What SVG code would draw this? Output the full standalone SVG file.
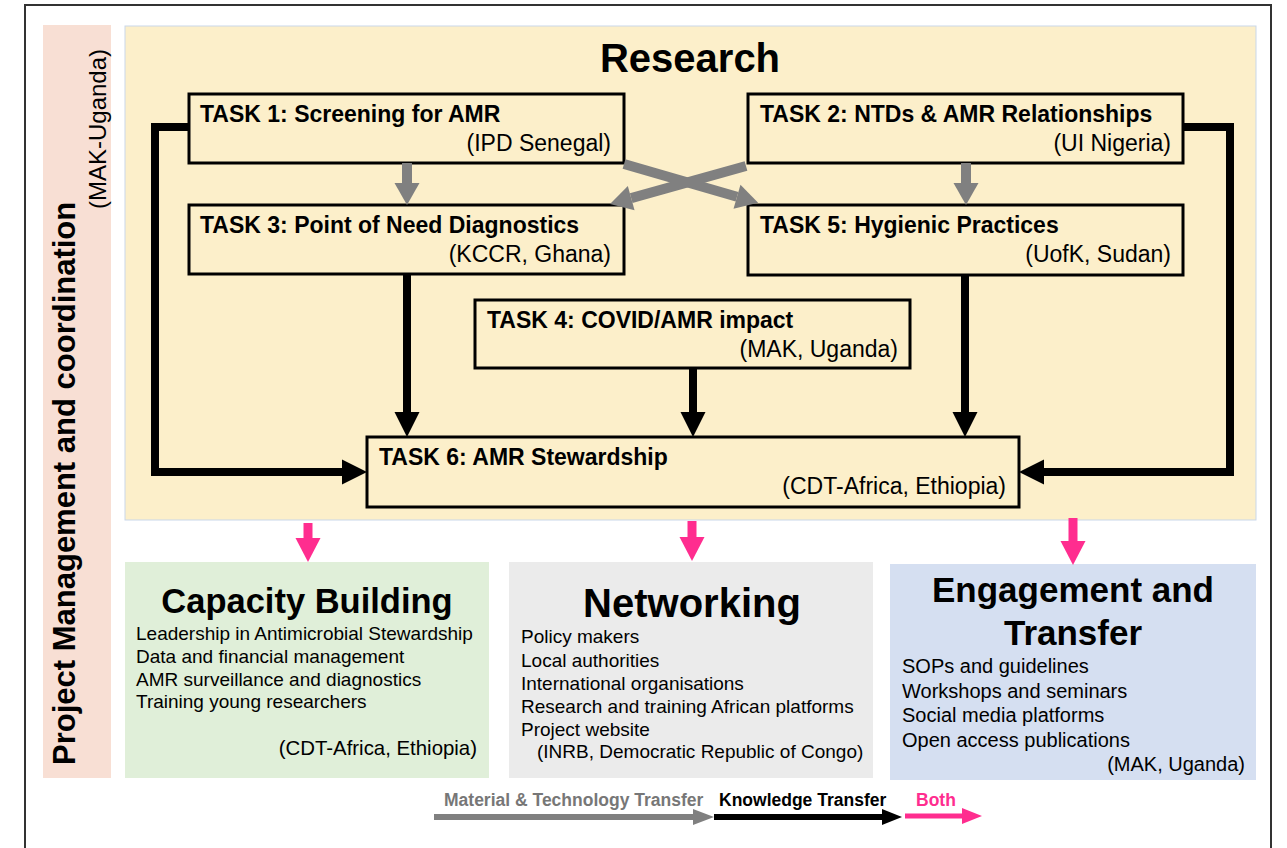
<svg xmlns="http://www.w3.org/2000/svg" width="1287" height="848" viewBox="0 0 1287 848">
<style>
text{font-family:"Liberation Sans",Arial,Helvetica,sans-serif;fill:#000}
.box{fill:#fcefca;stroke:#000;stroke-width:3}
.tt{font-size:23px;font-weight:bold}
.ts{font-size:23px;text-anchor:end}
.item{font-size:19px}
.gr{fill:none;stroke:#808080;stroke-width:10}
.bk{fill:none;stroke:#000;stroke-width:8}
.pk{fill:none;stroke:#ff2d8f;stroke-width:9}
.lg{font-size:17.5px;font-weight:bold}
</style>
<defs>
<marker id="hg" markerUnits="userSpaceOnUse" markerWidth="26" markerHeight="26" refX="0" refY="0" orient="auto" overflow="visible"><path d="M0,-12.5 L22,0 L0,12.5 Z" fill="#808080"/></marker>
<marker id="hb" markerUnits="userSpaceOnUse" markerWidth="26" markerHeight="26" refX="0" refY="0" orient="auto" overflow="visible"><path d="M0,-12.5 L25,0 L0,12.5 Z" fill="#000"/></marker>
<marker id="hp" markerUnits="userSpaceOnUse" markerWidth="26" markerHeight="26" refX="0" refY="0" orient="auto" overflow="visible"><path d="M0,-12.5 L24,0 L0,12.5 Z" fill="#ff2d8f"/></marker>
<marker id="lg" markerUnits="userSpaceOnUse" markerWidth="22" markerHeight="18" refX="0" refY="0" orient="auto" overflow="visible"><path d="M0,-8 L21,0 L0,8 Z" fill="#808080"/></marker>
<marker id="lb" markerUnits="userSpaceOnUse" markerWidth="22" markerHeight="18" refX="0" refY="0" orient="auto" overflow="visible"><path d="M0,-8 L20,0 L0,8 Z" fill="#000"/></marker>
<marker id="lp" markerUnits="userSpaceOnUse" markerWidth="22" markerHeight="18" refX="0" refY="0" orient="auto" overflow="visible"><path d="M0,-8 L20,0 L0,8 Z" fill="#ff2d8f"/></marker>
</defs>
<rect width="1287" height="848" fill="#fff"/>
<rect x="25" y="5" width="1246" height="870" fill="none" stroke="#333" stroke-width="2"/>

<g id="management">
<rect x="43" y="25" width="68" height="753" fill="#f8dfd4"/>
<text transform="translate(75,765) rotate(-90)" font-size="31" font-weight="bold">Project Management and coordination</text>
<text transform="translate(106,209) rotate(-90)" font-size="24">(MAK-Uganda)</text>
</g>

<g id="research">
<rect x="125" y="26" width="1131" height="494" fill="#fcefca" stroke="#c9d7ea" stroke-width="1"/>
<text x="690" y="72" font-size="40" font-weight="bold" text-anchor="middle">Research</text>
</g>

<g id="task1">
<rect class="box" x="189" y="94" width="435" height="69"/>
<text class="tt" x="200" y="122">TASK 1: Screening for AMR</text>
<text class="ts" x="611" y="151">(IPD Senegal)</text>
</g>
<g id="task2">
<rect class="box" x="748" y="94" width="435" height="69"/>
<text class="tt" x="760" y="122">TASK 2: NTDs &amp; AMR Relationships</text>
<text class="ts" x="1171" y="151">(UI Nigeria)</text>
</g>
<g id="task3">
<rect class="box" x="189" y="205" width="435" height="69"/>
<text class="tt" x="200" y="233">TASK 3: Point of Need Diagnostics</text>
<text class="ts" x="611" y="262">(KCCR, Ghana)</text>
</g>
<g id="task5">
<rect class="box" x="748" y="205" width="435" height="70"/>
<text class="tt" x="760" y="233">TASK 5: Hygienic Practices</text>
<text class="ts" x="1171" y="262">(UofK, Sudan)</text>
</g>
<g id="task4">
<rect class="box" x="475" y="300" width="435" height="68"/>
<text class="tt" x="487" y="328">TASK 4: COVID/AMR impact</text>
<text class="ts" x="898" y="357">(MAK, Uganda)</text>
</g>
<g id="task6">
<rect class="box" x="367" y="437" width="652" height="70"/>
<text class="tt" x="379" y="465">TASK 6: AMR Stewardship</text>
<text class="ts" x="1006" y="494">(CDT-Africa, Ethiopia)</text>
</g>

<g id="capacity">
<rect x="125" y="562" width="364" height="216" fill="#e0efd9"/>
<text x="307" y="613" font-size="34.5" font-weight="bold" text-anchor="middle">Capacity Building</text>
<text class="item" x="136" y="640">Leadership in Antimicrobial Stewardship</text>
<text class="item" x="136" y="663">Data and financial management</text>
<text class="item" x="136" y="686">AMR surveillance and diagnostics</text>
<text class="item" x="136" y="708">Training young researchers</text>
<text x="477" y="755" font-size="20.4" text-anchor="end">(CDT-Africa, Ethiopia)</text>
</g>
<g id="networking">
<rect x="509" y="562" width="364" height="216" fill="#ebebeb"/>
<text x="692" y="617" font-size="40" font-weight="bold" text-anchor="middle">Networking</text>
<text class="item" x="521" y="643">Policy makers</text>
<text class="item" x="521" y="667">Local authorities</text>
<text class="item" x="521" y="690">International organisations</text>
<text class="item" x="521" y="713">Research and training African platforms</text>
<text class="item" x="521" y="736">Project website</text>
<text class="item" x="537" y="758">(INRB, Democratic Republic of Congo)</text>
</g>
<g id="engagement">
<rect x="890" y="564" width="366" height="216" fill="#d5dff1"/>
<text x="1073" y="602" font-size="35" font-weight="bold" text-anchor="middle">Engagement and</text>
<text x="1073" y="645" font-size="35" font-weight="bold" text-anchor="middle">Transfer</text>
<text x="902" y="673" font-size="20">SOPs and guidelines</text>
<text x="902" y="698" font-size="20">Workshops and seminars</text>
<text x="902" y="722" font-size="20">Social media platforms</text>
<text x="902" y="747" font-size="20">Open access publications</text>
<text x="1245" y="771" font-size="20" text-anchor="end">(MAK, Uganda)</text>
</g>

<g id="connectors">
<line class="gr" x1="407" y1="163" x2="407" y2="183" marker-end="url(#hg)"/>
<line class="gr" x1="966" y1="163" x2="966" y2="183" marker-end="url(#hg)"/>
<line class="gr" x1="624" y1="164" x2="737" y2="196.7" marker-end="url(#hg)"/>
<line class="gr" x1="746" y1="166" x2="631.2" y2="198.1" marker-end="url(#hg)"/>
<path class="bk" d="M189,127 H155 V472 H342" marker-end="url(#hb)"/>
<path class="bk" d="M1183,127 H1230 V472 H1044" marker-end="url(#hb)"/>
<line class="bk" x1="407" y1="274" x2="407" y2="412" marker-end="url(#hb)"/>
<line class="bk" x1="693" y1="368" x2="693" y2="412" marker-end="url(#hb)"/>
<line class="bk" x1="965" y1="275" x2="965" y2="412" marker-end="url(#hb)"/>
<line class="pk" x1="308" y1="523" x2="308" y2="538" marker-end="url(#hp)"/>
<line class="pk" x1="692" y1="521" x2="692" y2="537" marker-end="url(#hp)"/>
<line class="pk" x1="1073" y1="518" x2="1073" y2="541" marker-end="url(#hp)"/>
</g>

<g id="legend">
<line x1="434" y1="817" x2="693" y2="817" stroke="#808080" stroke-width="6" marker-end="url(#lg)"/>
<line x1="714" y1="817" x2="882" y2="817" stroke="#000" stroke-width="6" marker-end="url(#lb)"/>
<line x1="905" y1="816" x2="962" y2="816" stroke="#ff2d8f" stroke-width="5" marker-end="url(#lp)"/>
<text class="lg" x="444" y="806" style="fill:#777">Material &amp; Technology Transfer</text>
<text class="lg" x="719" y="806">Knowledge Transfer</text>
<text class="lg" x="916" y="806" style="fill:#ff2d8f">Both</text>
</g>
</svg>
